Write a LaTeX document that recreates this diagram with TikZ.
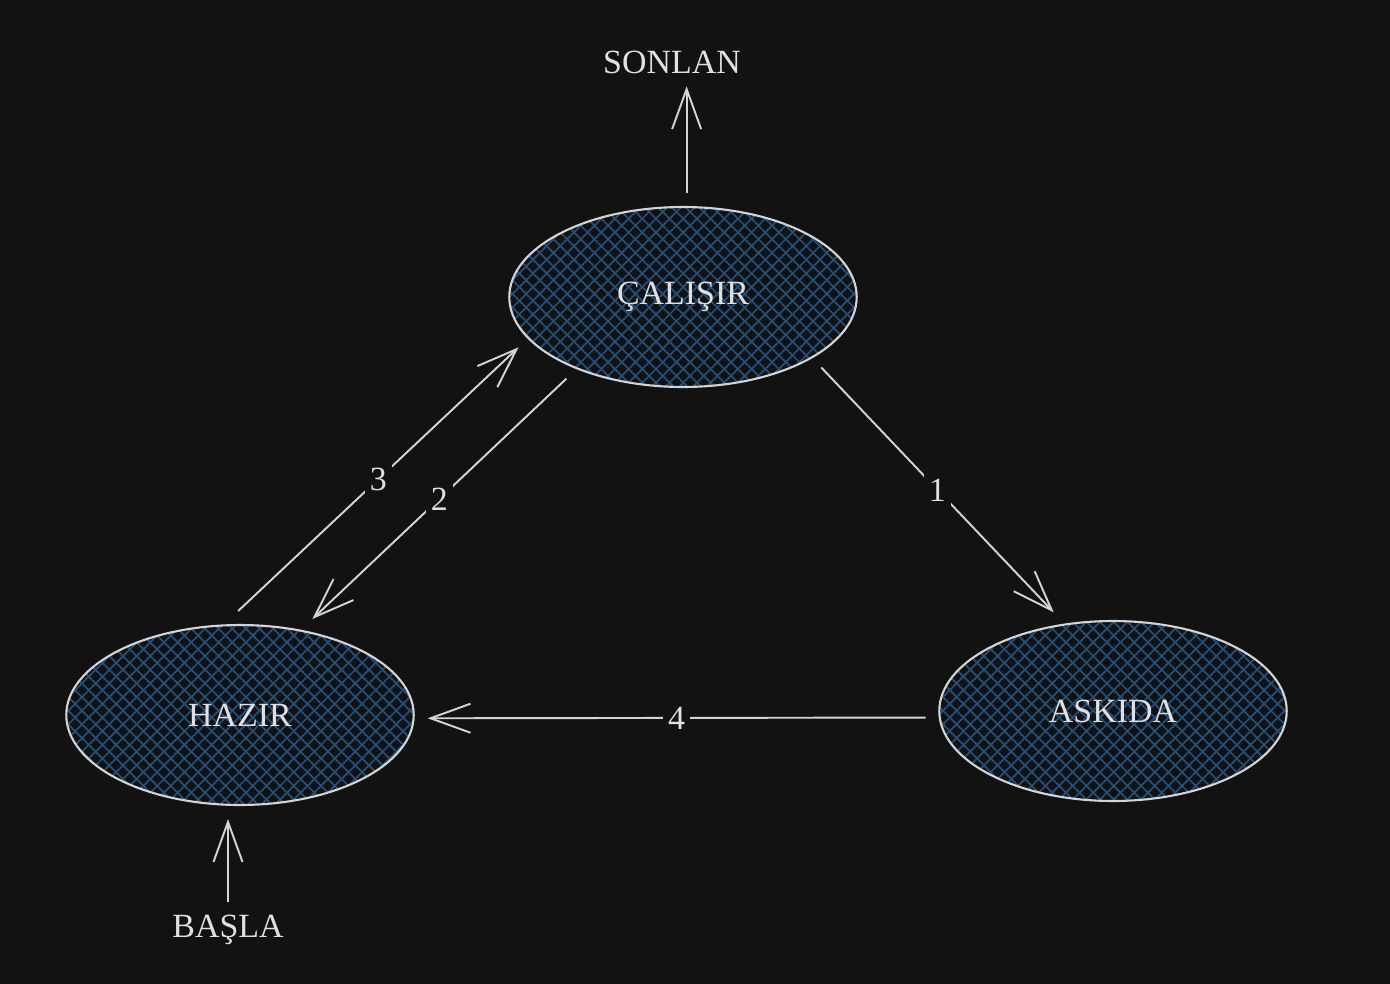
\documentclass[tikz,border=0pt]{standalone}
\usepackage{fontspec}
\setmainfont{Liberation Serif}
\usetikzlibrary{arrows.meta}
\usetikzlibrary{shapes.geometric}
\usetikzlibrary{patterns.meta}
\definecolor{bgc}{HTML}{121212}
\definecolor{textc}{HTML}{E0E0E0}
\definecolor{linec}{HTML}{D4D4D4}
\definecolor{hatchc}{HTML}{22507E}

\begin{document}
\begin{tikzpicture}[x=0.02cm,y=-0.02cm,font=\fontsize{19.3}{23}\selectfont,
    >={Straight Barb[length=0.8cm,width=0.58cm]}]
\tikzset{
  state node/.style = {ellipse, draw=linec, line width=1.2pt, text=textc,
    minimum width=6.95cm, minimum height=3.6cm, outer sep=8pt,
    preaction={fill=bgc},
    preaction={pattern={Lines[angle=45,distance=5.5pt,line width=1pt]}, pattern color=hatchc},
    preaction={pattern={Lines[angle=-45,distance=5.5pt,line width=1pt]}, pattern color=hatchc}},
  ext node/.style = {text=textc, outer sep=4pt},
  num node/.style = {fill=bgc, text=textc, inner sep=3pt},
  flow/.style = {draw=linec, line width=1.1pt}
}
\fill[bgc] (0,0) rectangle (1390,984);

    \node[state node] (calis)  at (683,297)  {ÇALIŞIR};
    \node[state node] (hazir)  at (240,715)  {HAZIR};
    \node[state node] (askida) at (1113,711) {ASKIDA};
    \node[ext node]   (sonlan) at (672,62)   {SONLAN};
    \node[ext node]   (basla)  at (228,930)  {BAŞLA};

    \path[->]
        (calis.-27)  edge[flow] node[num node] {1} (askida.121)
        (calis.215)  edge[flow] node[num node] {2} (hazir.53)
        (hazir.91)   edge[flow] node[num node] {3} (calis.197.5)
        (askida.182) edge[flow] node[num node] {4} (hazir.-1)
        (calis.88)   edge[flow] (calis.88 |- sonlan.south)
        (basla.north) edge[flow] (basla.north |- hazir.south)
;
\end{tikzpicture}
\end{document}
